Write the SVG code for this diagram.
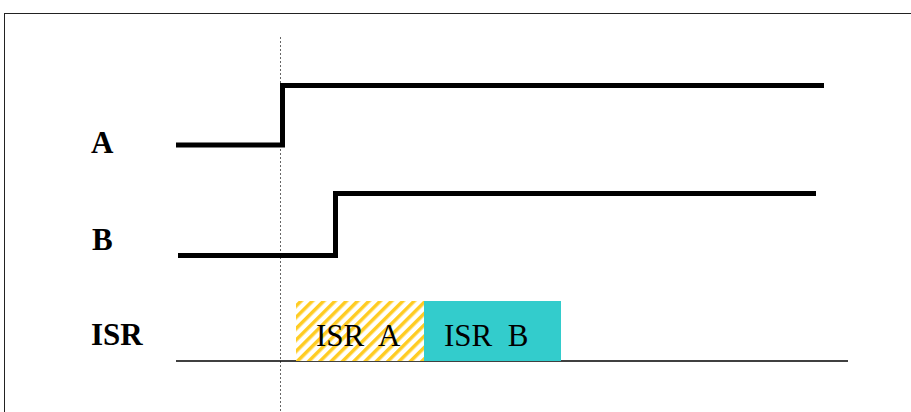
<svg xmlns="http://www.w3.org/2000/svg" width="911" height="412" viewBox="0 0 911 412">
<style>
.sig{fill:none;stroke:#000;stroke-width:5;stroke-linejoin:miter;stroke-linecap:butt}
.lbl{font-family:"Liberation Serif","Times New Roman",serif;font-weight:bold;font-size:31px;fill:#000}
.txt{font-family:"Liberation Serif","Times New Roman",serif;font-size:31px;fill:#000;white-space:pre}
</style>
<defs>
<pattern id="hatch" patternUnits="userSpaceOnUse" width="8" height="8" patternTransform="rotate(45)">
<rect width="8" height="8" fill="#fff"/>
<rect x="0" y="0" width="3.5" height="8" fill="#FFCC22"/>
</pattern>
</defs>
<rect x="4.5" y="13.5" width="1000" height="1000" fill="#fff" stroke="#222" stroke-width="1"/>
<g id="connectors">
<line x1="280.5" y1="37" x2="280.5" y2="412" stroke="#666" stroke-width="1" stroke-dasharray="2,2"/>
<line x1="176" y1="361" x2="848" y2="361" stroke="#000" stroke-width="1.5"/>
</g>
<g id="signalA">
<text class="lbl" x="91" y="153">A</text>
<polyline class="sig" points="176,145 282.5,145 282.5,85.5 824,85.5"/>
</g>
<g id="signalB">
<text class="lbl" x="92" y="250">B</text>
<polyline class="sig" points="178,255.5 335.5,255.5 335.5,193.5 816,193.5"/>
</g>
<g id="isrLabel">
<text class="lbl" x="91" y="345">ISR</text>
</g>
<g id="isrA">
<rect x="296" y="301" width="128" height="60" fill="url(#hatch)"/>
<text class="txt" x="316" y="346">ISR  A</text>
</g>
<g id="isrB">
<rect x="424" y="301" width="137" height="60" fill="#33CCCC"/>
<text class="txt" x="444" y="346">ISR  B</text>
</g>
</svg>
